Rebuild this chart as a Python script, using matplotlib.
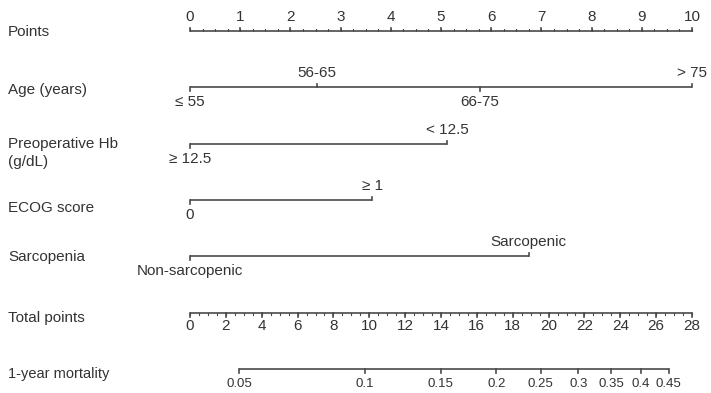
import numpy as np
import matplotlib
matplotlib.use("Agg")
import matplotlib.pyplot as plt

plt.rcParams['font.family'] = ['Liberation Sans', 'DejaVu Sans']

# ---------------- data ----------------
points_ticks = [0, 1, 2, 3, 4, 5, 6, 7, 8, 9, 10]

age_levels = ["\u2264 55", "56-65", "66-75", "> 75"]
age_points = [0.0, 2.53, 5.78, 10.0]

hb_levels = ["\u2265 12.5", "< 12.5"]
hb_points = [0.0, 5.12]

ecog_levels = ["0", "\u2265 1"]
ecog_points = [0.0, 3.63]

sarc_levels = ["Non-sarcopenic", "Sarcopenic"]
sarc_points = [0.0, 6.75]

total_ticks = [0, 2, 4, 6, 8, 10, 12, 14, 16, 18, 20, 22, 24, 26, 28]
total_max = 28.0

mort_ticks = [0.05, 0.1, 0.15, 0.2, 0.25, 0.3, 0.35, 0.4, 0.45]
mort_labels = ["0.05", "0.1", "0.15", "0.2", "0.25", "0.3", "0.35", "0.4", "0.45"]
# total points = mort_tp0 + mort_slope * (cloglog(p) - cloglog(0.05))
mort_tp0 = 2.73
mort_slope = 9.76

# ---------------- layout ----------------
W, H = 711, 393
fig = plt.figure(figsize=(W / 100, H / 100), dpi=100)
ax = fig.add_axes([0, 0, 1, 1])
px_per_pt = (692 - 190) / 10.0
ax.set_xlim(-190 / px_per_pt, (W - 190) / px_per_pt)
ax.set_ylim(H, 0)
ax.axis('off')

LC = '#4a4a4a'
TC = '#333333'
FS = 11
LW = 1.2

def tp_to_x(t):
    return t * 10.0 / total_max

# row labels
row_labels = [("Points", 32), ("Age (years)", 90), ("Preoperative Hb\n(g/dL)", 153),
              ("ECOG score", 208), ("Sarcopenia", 257), ("Total points", 318)]
x_lab = -182 / px_per_pt
for txt, y in row_labels:
    ax.text(x_lab, y, txt, ha='left', va='center', fontsize=FS, color=TC, linespacing=1.35)
ax.text(x_lab, 374, "1-year mortality", ha='left', va='center', fontsize=10.5, color=TC)

# Points axis
y_pts = 31
ax.plot([0, 10], [y_pts, y_pts], color=LC, lw=LW, solid_capstyle='butt')
for t in points_ticks:
    ax.plot([t, t], [y_pts, y_pts - 3.5], color=LC, lw=LW)
    ax.text(t, 17, str(t), ha='center', va='center', fontsize=FS, color=TC)
for t in np.arange(0, 10.01, 0.25):
    ax.plot([t, t], [y_pts, y_pts - 1.8], color=LC, lw=0.8)

# categorical axes
def cat_axis(levels, pts, y, up_idx):
    ax.plot([min(pts), max(pts)], [y, y], color=LC, lw=LW, solid_capstyle='butt')
    for i, (lev, p) in enumerate(zip(levels, pts)):
        if i in up_idx:
            ax.plot([p, p], [y, y - 3.5], color=LC, lw=LW)
            ax.text(p, y - 14, lev, ha='center', va='center', fontsize=FS, color=TC)
        else:
            ax.plot([p, p], [y, y + 3.5], color=LC, lw=LW)
            ax.text(p, y + 15, lev, ha='center', va='center', fontsize=FS, color=TC)

cat_axis(age_levels, age_points, 87, {1, 3})
cat_axis(hb_levels, hb_points, 144, {1})
cat_axis(ecog_levels, ecog_points, 200, {1})
cat_axis(sarc_levels, sarc_points, 256, {1})

# Total points axis
y_tot = 313
ax.plot([0, tp_to_x(total_max)], [y_tot, y_tot], color=LC, lw=LW, solid_capstyle='butt')
for t in total_ticks:
    ax.plot([tp_to_x(t)] * 2, [y_tot, y_tot + 3.5], color=LC, lw=LW)
    ax.text(tp_to_x(t), 326, str(t), ha='center', va='center', fontsize=FS, color=TC)
for t in np.arange(0, total_max + 0.01, 0.5):
    ax.plot([tp_to_x(t)] * 2, [y_tot, y_tot + 1.8], color=LC, lw=0.8)

# Mortality axis
def cloglog(p):
    return np.log(-np.log(1 - np.asarray(p)))

mort_tp = mort_tp0 + mort_slope * (cloglog(mort_ticks) - cloglog(mort_ticks[0]))
y_m = 369
ax.plot([tp_to_x(mort_tp[0]), tp_to_x(mort_tp[-1])], [y_m, y_m], color=LC, lw=LW, solid_capstyle='butt')
for t, lab in zip(mort_tp, mort_labels):
    ax.plot([tp_to_x(t)] * 2, [y_m, y_m + 3.5], color=LC, lw=LW)
    ax.text(tp_to_x(t), 384, lab, ha='center', va='center', fontsize=9.5, color=TC)

fig.savefig("out.png", dpi=100)
